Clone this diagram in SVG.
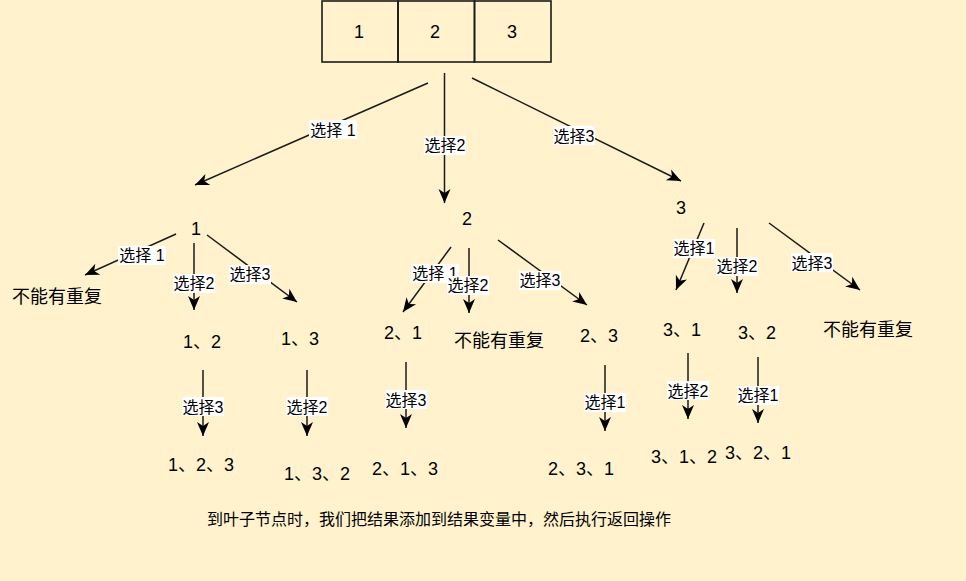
<svg xmlns="http://www.w3.org/2000/svg" width="966" height="581" viewBox="0 0 966 581">
<style>
text{font-family:"Liberation Sans","Noto Sans CJK SC",sans-serif;fill:#000;text-anchor:middle}
.n{font-size:18px}
.l{font-size:16px}
.b{font-size:16px}
.c line{stroke:#1a1a1a;stroke-width:1.5;marker-end:url(#ah)}
.lb rect{fill:#fff}
.box rect{fill:none;stroke:#1a1a1a;stroke-width:1.6}
</style>
<defs>
<marker id="ah" markerWidth="16" markerHeight="14" viewBox="0 0 16 14" refX="15" refY="7" orient="auto" markerUnits="userSpaceOnUse"><path d="M1,1 L15,7 L1,13 L5,7 Z" fill="#000"/></marker>
</defs>
<rect width="966" height="581" fill="#fff2cc"/>
<g id="array" class="box">
<rect x="322" y="1" width="76" height="61"/>
<rect x="398" y="1" width="76.5" height="61"/>
<rect x="474.5" y="1" width="76.5" height="61"/>
<text class="n" x="359" y="38">1</text>
<text class="n" x="435" y="38">2</text>
<text class="n" x="512" y="38">3</text>
</g>
<g id="connectors" class="c">
<line x1="428" y1="83" x2="195" y2="185"/>
<line x1="444.5" y1="73" x2="444.5" y2="203"/>
<line x1="472" y1="78" x2="681" y2="181"/>
<line x1="176" y1="234" x2="85" y2="275"/>
<line x1="194" y1="243" x2="194" y2="310"/>
<line x1="207" y1="235" x2="297" y2="302"/>
<line x1="451" y1="247" x2="403" y2="312"/>
<line x1="469" y1="248" x2="469" y2="313"/>
<line x1="498" y1="240" x2="587" y2="305"/>
<line x1="704" y1="223" x2="676" y2="290"/>
<line x1="737" y1="228" x2="737" y2="293"/>
<line x1="769" y1="223" x2="860" y2="290"/>
<line x1="203" y1="370" x2="203" y2="436"/>
<line x1="307" y1="370" x2="307" y2="436"/>
<line x1="406" y1="362" x2="406" y2="428"/>
<line x1="605" y1="365" x2="605" y2="431"/>
<line x1="688" y1="353" x2="688" y2="419"/>
<line x1="758" y1="357" x2="758" y2="423"/>
</g>
<g id="labels" class="lb">
<g><rect x="309" y="120" width="48" height="19"/><text class="l" x="333" y="135.5">选择 1</text></g>
<g><rect x="424" y="136" width="42" height="19"/><text class="l" x="445" y="151">选择2</text></g>
<g><rect x="553" y="126" width="42" height="19"/><text class="l" x="574" y="141.5">选择3</text></g>
<g><rect x="118" y="246" width="48" height="19"/><text class="l" x="142" y="261">选择 1</text></g>
<g><rect x="173" y="274" width="42" height="19"/><text class="l" x="194" y="289">选择2</text></g>
<g><rect x="229" y="265" width="42" height="19"/><text class="l" x="250" y="280">选择3</text></g>
<g><rect x="411" y="264" width="48" height="19"/><text class="l" x="435" y="279">选择 1</text></g>
<g><rect x="447" y="276" width="42" height="19"/><text class="l" x="468" y="291">选择2</text></g>
<g><rect x="519" y="271" width="42" height="19"/><text class="l" x="540" y="286">选择3</text></g>
<g><rect x="673" y="239" width="42" height="19"/><text class="l" x="694" y="254">选择1</text></g>
<g><rect x="716" y="257" width="42" height="19"/><text class="l" x="737" y="272">选择2</text></g>
<g><rect x="791" y="253" width="42" height="19"/><text class="l" x="812" y="268.5">选择3</text></g>
<g><rect x="182" y="397" width="42" height="19"/><text class="l" x="203" y="412.5">选择3</text></g>
<g><rect x="286" y="397" width="42" height="19"/><text class="l" x="307" y="412.5">选择2</text></g>
<g><rect x="385" y="390" width="42" height="19"/><text class="l" x="406" y="405.5">选择3</text></g>
<g><rect x="584" y="393" width="42" height="19"/><text class="l" x="605" y="408">选择1</text></g>
<g><rect x="667" y="381" width="42" height="19"/><text class="l" x="688" y="396.5">选择2</text></g>
<g><rect x="737" y="386" width="42" height="19"/><text class="l" x="758" y="401">选择1</text></g>
</g>
<g id="n1"><text class="n" x="196" y="235">1</text></g>
<g id="n2"><text class="n" x="467" y="225">2</text></g>
<g id="n3"><text class="n" x="681" y="214">3</text></g>
<g id="n11"><text class="n" x="57" y="303">不能有重复</text></g>
<g id="n12"><text class="n" x="202" y="348">1、2</text></g>
<g id="n13"><text class="n" x="300" y="345">1、3</text></g>
<g id="n21"><text class="n" x="403" y="339">2、1</text></g>
<g id="n22"><text class="n" x="499" y="347">不能有重复</text></g>
<g id="n23"><text class="n" x="599" y="342">2、3</text></g>
<g id="n31"><text class="n" x="682" y="336">3、1</text></g>
<g id="n32"><text class="n" x="757" y="339">3、2</text></g>
<g id="n33"><text class="n" x="868" y="336">不能有重复</text></g>
<g id="n123"><text class="n" x="201" y="471">1、2、3</text></g>
<g id="n132"><text class="n" x="317" y="480">1、3、2</text></g>
<g id="n213"><text class="n" x="405" y="475">2、1、3</text></g>
<g id="n231"><text class="n" x="581" y="475">2、3、1</text></g>
<g id="n312"><text class="n" x="684" y="463">3、1、2</text></g>
<g id="n321"><text class="n" x="758" y="459">3、2、1</text></g>
<g id="note"><text class="b" x="439" y="525">到叶子节点时，我们把结果添加到结果变量中，然后执行返回操作</text></g>
</svg>
